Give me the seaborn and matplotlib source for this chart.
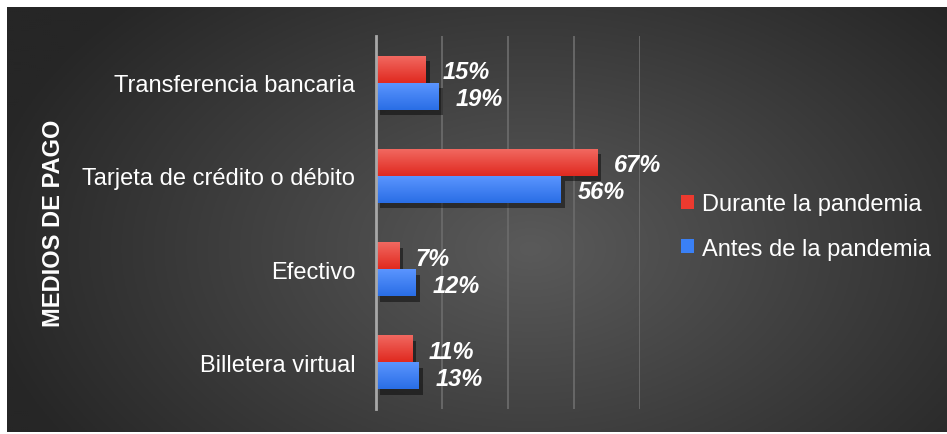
import numpy as np
import pandas as pd
import matplotlib
matplotlib.use("Agg")
import matplotlib.pyplot as plt
import seaborn as sns
from matplotlib import patheffects as pe
from matplotlib.colors import to_rgb

categories = ["Transferencia bancaria", "Tarjeta de crédito o débito", "Efectivo", "Billetera virtual"]
series = ["Durante la pandemia", "Antes de la pandemia"]
durante = [15, 67, 7, 11]
antes = [19, 56, 12, 13]
x_ticks = [0, 20, 40, 60, 80]
axis_title = "MEDIOS DE PAGO"

df = pd.DataFrame({
    "medio": categories * 2,
    "serie": [series[0]] * len(categories) + [series[1]] * len(categories),
    "valor": durante + antes,
})

sns.set_style("dark")
plt.rcParams["font.family"] = ["Liberation Sans", "DejaVu Sans"]

W, H = 947, 435
fig = plt.figure(figsize=(W / 100, H / 100), dpi=100)
fig.patch.set_facecolor("white")

# dark radial background panel
bg = fig.add_axes([7 / W, 2 / H, (W - 7) / W, (H - 10) / H])
nx, ny = 470, 212
xs = np.linspace(7, W, nx)
ys = np.linspace(8, H - 2, ny)
X, Y = np.meshgrid(xs, ys)
r = np.sqrt(((X - 530) / 560) ** 2 + ((Y - 250) / 360) ** 2)
t = np.clip(r, 0, 1)[..., None]
c_center = np.array(to_rgb("#5a5a5a"))
c_edge = np.array(to_rgb("#262626"))
img = c_center * (1 - t) + c_edge * t
bg.imshow(img, extent=[0, 1, 0, 1], aspect="auto", origin="upper")
bg.axis("off")

red = "#ec3a2f"
blue = "#3a80f5"
ax = fig.add_axes([376 / W, 1 - 410 / H, 264 / W, 373 / H])
ax.set_facecolor("none")
sns.barplot(data=df, y="medio", x="valor", hue="serie", order=categories,
            hue_order=series, palette=[red, blue], width=0.58, orient="h",
            saturation=1, ax=ax)

grads = {red: ("#f26a62", "#e02a20"), blue: ("#5c96ff", "#2a6ee6")}
for cont, col in zip(ax.containers, [red, blue]):
    top, bot = grads[col]
    g = np.linspace(0, 1, 32)[:, None, None]
    gimg = np.array(to_rgb(top)) * (1 - g) + np.array(to_rgb(bot)) * g
    for p in cont:
        p.set_edgecolor("none")
        p.set_path_effects([pe.SimplePatchShadow(offset=(3, -4), shadow_rgbFace="black", alpha=0.45), pe.Normal()])
        x0, y0, w, h = p.get_x(), p.get_y(), p.get_width(), p.get_height()
        im = ax.imshow(np.repeat(gimg, 2, axis=1), extent=[x0, x0 + w, y0 + h, y0],
                       aspect="auto", origin="upper", zorder=3)
        im.set_clip_path(p)

for cont in ax.containers:
    labs = ax.bar_label(cont, fmt="{:.0f}%", padding=12, color="white",
                        fontsize=17, fontweight="bold", fontstyle="italic")
    for l in labs:
        l.set_zorder(5)
        l.set_va("center_baseline")

ax.set_xlim(0, 80)
ax.set_ylim(len(categories) - 0.5, -0.5)
ax.set_xticks(x_ticks)
ax.set_xticklabels([])
ax.xaxis.grid(True, color="#6a6a6a", lw=1.3)
ax.yaxis.grid(False)
ax.set_axisbelow(True)
for s in ["top", "right", "bottom"]:
    ax.spines[s].set_visible(False)
ax.spines["left"].set_color("#a8a8a8")
ax.spines["left"].set_linewidth(2)
ax.spines["left"].set_zorder(6)
ax.tick_params(axis="both", length=0)
ax.tick_params(axis="y", colors="white", labelsize=17, pad=15)
ax.set_xlabel("")
ax.set_ylabel("")

fig.text(54 / W, 1 - 223 / H, axis_title, rotation=90, ha="center", va="center",
         color="white", fontsize=17, fontweight="bold")

handles, labels = ax.get_legend_handles_labels()
leg = ax.legend(handles, labels, loc="center left", bbox_to_anchor=(681 / W, 1 - 227.5 / H),
                bbox_transform=fig.transFigure, frameon=False, fontsize=17, labelcolor="white",
                handlelength=0.55, handleheight=0.55, handletextpad=0.35, labelspacing=0.95,
                borderpad=0, borderaxespad=0)
for hp in leg.get_patches():
    hp.set_edgecolor("none")
    hp.set_linewidth(0)

fig.savefig("out.png", dpi=100)
